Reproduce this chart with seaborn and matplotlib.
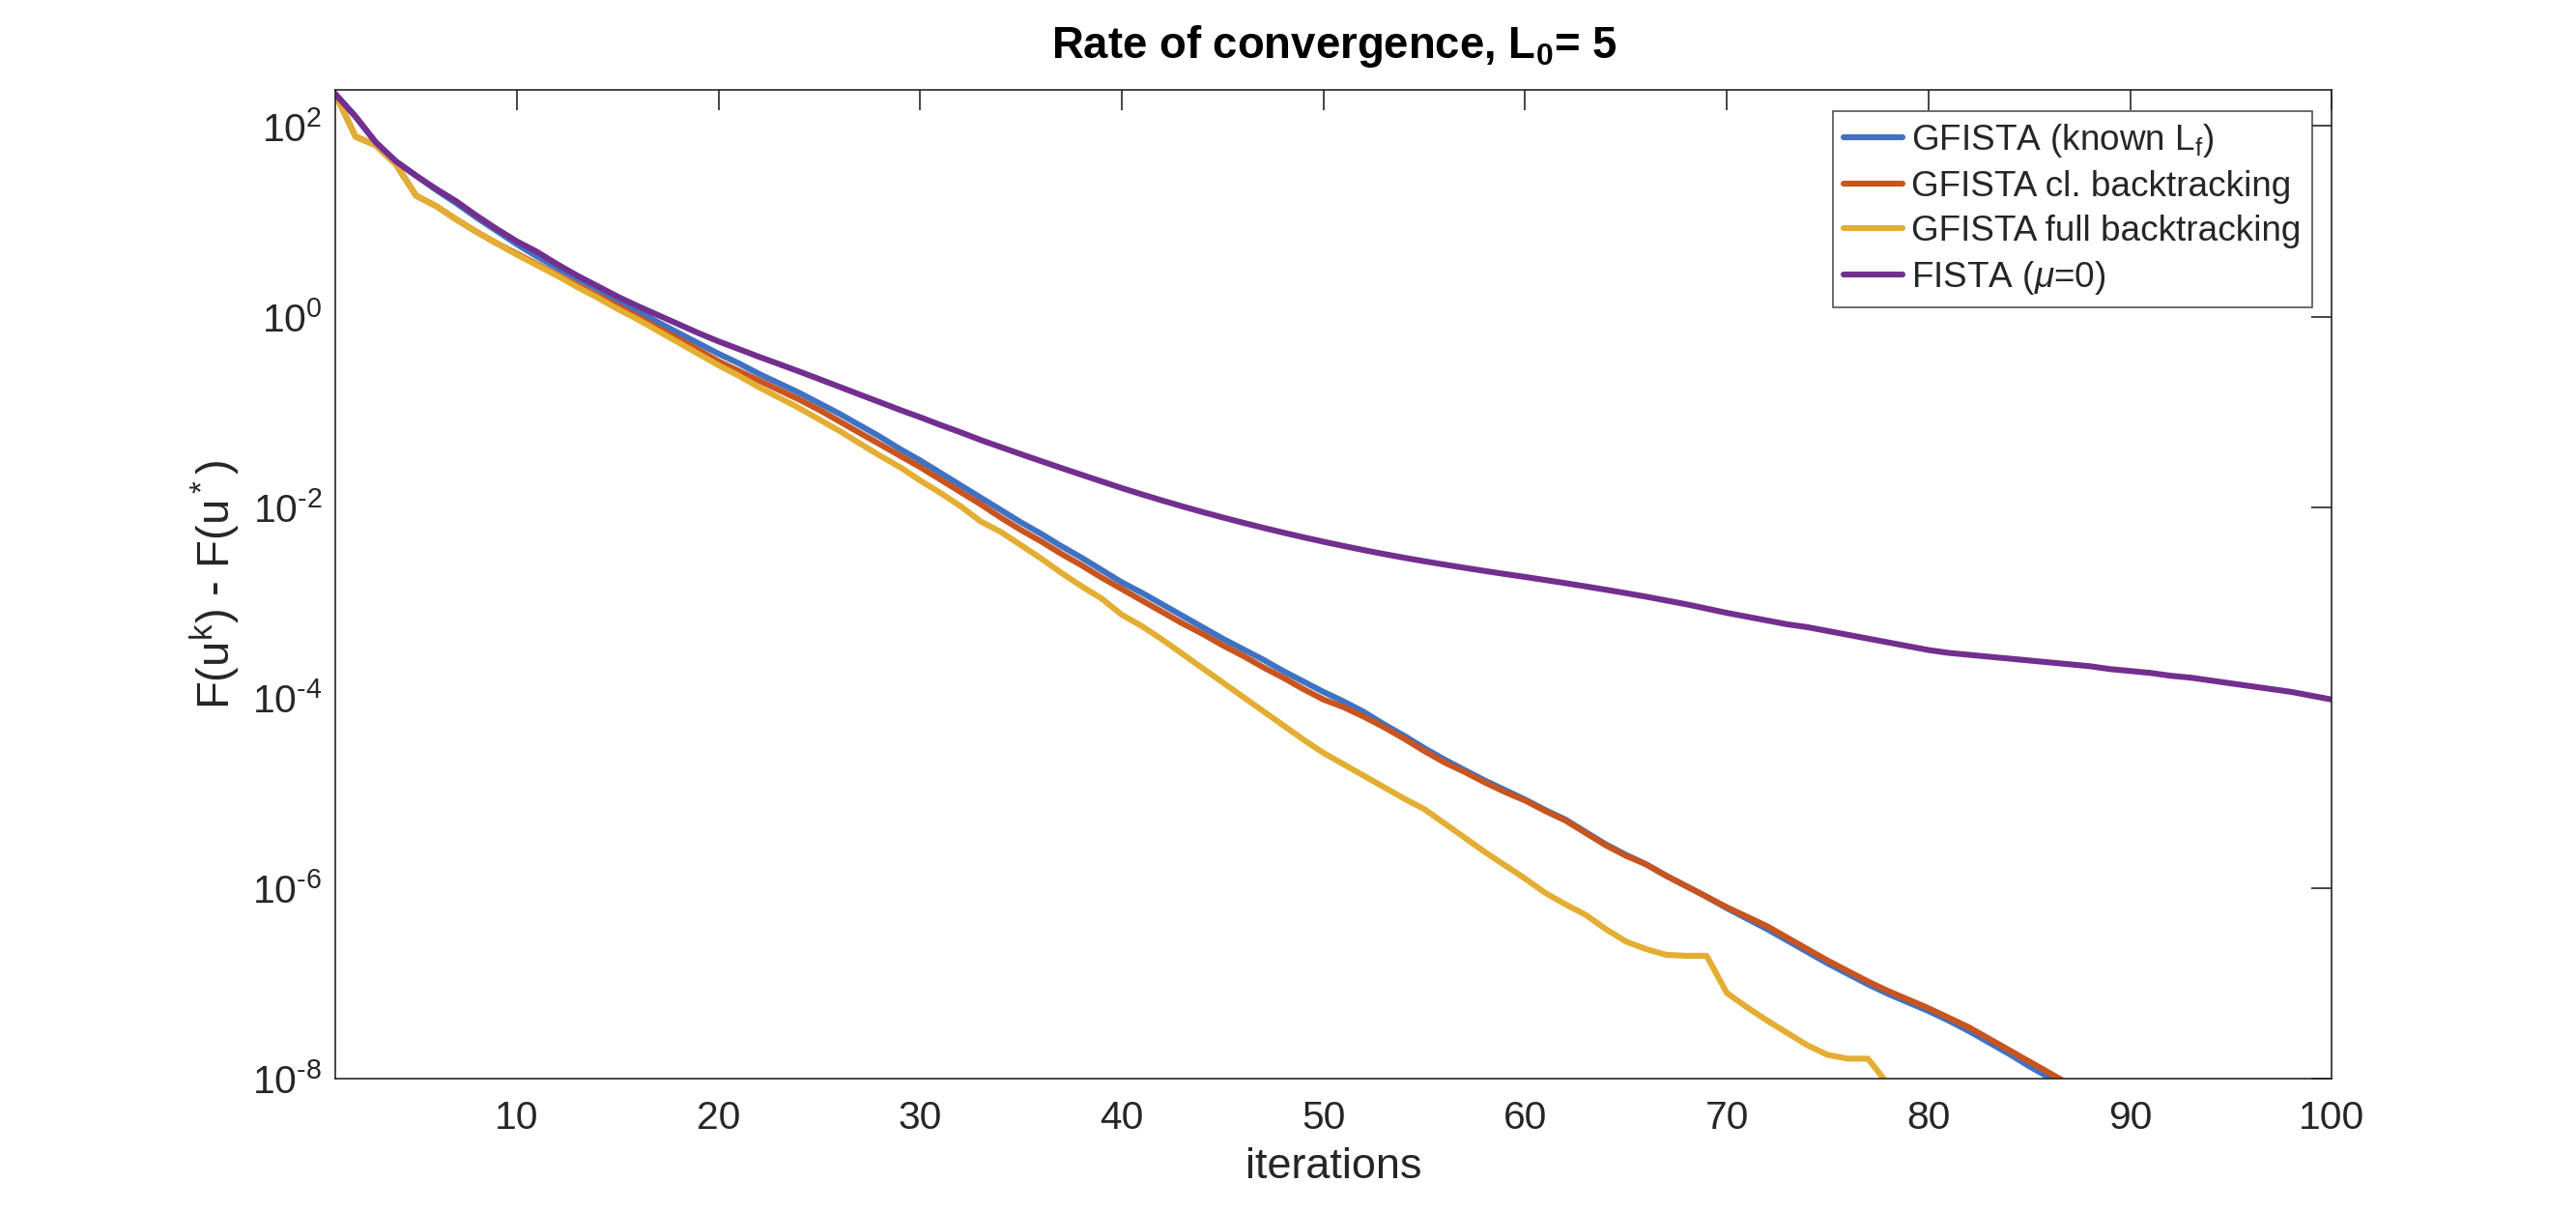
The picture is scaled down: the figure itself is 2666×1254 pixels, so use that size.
import matplotlib
matplotlib.use("Agg")
import matplotlib.pyplot as plt
import numpy as np
import pandas as pd
import seaborn as sns

# log10 of F(u^k) - F(u*), one value per iteration (k = 1, 2, ...)
gfista_known_log10 = [
    2.336, 2.10, 1.83, 1.63, 1.48, 1.33, 1.19, 1.04, 0.90, 0.76,
    0.63, 0.51, 0.40, 0.29, 0.17, 0.06, -0.06, -0.17, -0.28, -0.39,
    -0.49, -0.60, -0.70, -0.80, -0.91, -1.02, -1.14, -1.26, -1.39, -1.51,
    -1.64, -1.77, -1.90, -2.03, -2.16, -2.28, -2.41, -2.53, -2.66, -2.79,
    -2.90, -3.02, -3.14, -3.26, -3.38, -3.49, -3.60, -3.72, -3.83, -3.94,
    -4.04, -4.15, -4.28, -4.40, -4.53, -4.65, -4.76, -4.87, -4.97, -5.07,
    -5.18, -5.28, -5.41, -5.54, -5.65, -5.75, -5.87, -5.98, -6.09, -6.21,
    -6.32, -6.43, -6.55, -6.67, -6.79, -6.90, -7.01, -7.11, -7.20, -7.29,
    -7.39, -7.50, -7.62, -7.74, -7.87, -7.99, -8.12,
]
gfista_classic_log10 = [
    2.336, 1.89, 1.80, 1.60, 1.27, 1.16, 1.02, 0.89, 0.77, 0.66,
    0.55, 0.44, 0.33, 0.22, 0.11, 0.00, -0.12, -0.23, -0.35, -0.47,
    -0.57, -0.67, -0.77, -0.87, -0.98, -1.10, -1.22, -1.34, -1.46, -1.58,
    -1.71, -1.84, -1.97, -2.11, -2.24, -2.36, -2.49, -2.61, -2.74, -2.86,
    -2.98, -3.10, -3.22, -3.33, -3.45, -3.56, -3.68, -3.79, -3.91, -4.02,
    -4.10, -4.20, -4.31, -4.43, -4.56, -4.68, -4.78, -4.89, -4.99, -5.08,
    -5.19, -5.29, -5.42, -5.55, -5.66, -5.75, -5.87, -5.98, -6.09, -6.20,
    -6.30, -6.40, -6.52, -6.64, -6.76, -6.87, -6.98, -7.08, -7.17, -7.26,
    -7.36, -7.46, -7.58, -7.70, -7.82, -7.94, -8.06,
]
gfista_full_log10 = [
    2.336, 1.89, 1.80, 1.60, 1.27, 1.16, 1.02, 0.89, 0.77, 0.65,
    0.54, 0.43, 0.31, 0.20, 0.08, -0.03, -0.15, -0.27, -0.39, -0.51,
    -0.62, -0.74, -0.85, -0.96, -1.08, -1.20, -1.33, -1.46, -1.58, -1.72,
    -1.85, -1.99, -2.15, -2.26, -2.40, -2.54, -2.69, -2.83, -2.96, -3.13,
    -3.25, -3.39, -3.54, -3.69, -3.84, -3.99, -4.14, -4.29, -4.44, -4.58,
    -4.70, -4.82, -4.94, -5.06, -5.17, -5.32, -5.47, -5.62, -5.76, -5.90,
    -6.05, -6.17, -6.28, -6.43, -6.56, -6.64, -6.70, -6.71, -6.71, -7.10,
    -7.25, -7.39, -7.52, -7.65, -7.75, -7.79, -7.79, -8.06,
]
fista_log10 = [
    2.336, 2.10, 1.83, 1.63, 1.48, 1.34, 1.21, 1.06, 0.92, 0.79,
    0.68, 0.55, 0.43, 0.32, 0.21, 0.11, 0.016, -0.078, -0.172, -0.260,
    -0.340, -0.421, -0.498, -0.576, -0.656, -0.737, -0.818, -0.898, -0.979, -1.056,
    -1.137, -1.214, -1.295, -1.370, -1.444, -1.517, -1.589, -1.660, -1.730, -1.800,
    -1.866, -1.930, -1.992, -2.051, -2.108, -2.163, -2.216, -2.267, -2.316, -2.363,
    -2.408, -2.451, -2.492, -2.531, -2.568, -2.603, -2.637, -2.670, -2.702, -2.733,
    -2.765, -2.798, -2.832, -2.867, -2.903, -2.940, -2.980, -3.020, -3.065, -3.110,
    -3.15, -3.19, -3.23, -3.26, -3.30, -3.34, -3.38, -3.42, -3.46, -3.50,
    -3.53, -3.55, -3.57, -3.59, -3.61, -3.63, -3.65, -3.67, -3.70, -3.72,
    -3.74, -3.77, -3.79, -3.82, -3.85, -3.88, -3.91, -3.94, -3.98, -4.02,
]

labels = [
    r"GFISTA (known L$_\mathrm{f}$)",
    "GFISTA cl. backtracking",
    "GFISTA full backtracking",
    r"FISTA ($\mu$=0)",
]
colors = ["#3f72c3", "#c8541f", "#e3ae33", "#732f8f"]
series = [gfista_known_log10, gfista_classic_log10, gfista_full_log10, fista_log10]

y_exponents = [-8, -6, -4, -2, 0, 2]
x_ticks = list(range(10, 101, 10))

rows = []
for lab, vals in zip(labels, series):
    for k, v in enumerate(vals):
        rows.append({"iteration": k + 1, "gap": 10.0 ** v, "method": lab})
df = pd.DataFrame(rows)

sns.set_style("white")
plt.rcParams["font.family"] = ["Liberation Sans", "DejaVu Sans"]
plt.rcParams["mathtext.fontset"] = "custom"
plt.rcParams["mathtext.rm"] = "Liberation Sans"
plt.rcParams["mathtext.it"] = "Liberation Sans:italic"
plt.rcParams["mathtext.bf"] = "Liberation Sans:bold"

fig = plt.figure(figsize=(2666 / 200, 1254 / 200), dpi=200)
ax = fig.add_axes([0.1302, 0.110, 0.775, 0.8158])

sns.lineplot(data=df, x="iteration", y="gap", hue="method", hue_order=labels,
             palette=colors, linewidth=2.2, ax=ax, legend=False)

ax.set_yscale("log")
ax.set_xlim(1, 100)
ax.set_ylim(1e-8, 10 ** 2.38)
ax.set_xticks(x_ticks)
ax.set_yticks([10.0 ** e for e in y_exponents])
# MATLAB style exponents use a plain hyphen
ax.set_yticklabels([r"$\mathdefault{10^{%s}}$" % str(e).replace("-", "\u2010")
                    for e in y_exponents])
ax.yaxis.set_minor_locator(matplotlib.ticker.NullLocator())

dark = "#262626"
for s in ax.spines.values():
    s.set_color(dark)
    s.set_linewidth(0.6)
ax.tick_params(direction="in", length=7.5, width=0.6, top=True, right=True,
               colors=dark, labelsize=14.7)
ax.tick_params(axis="x", pad=8)
ax.tick_params(axis="y", pad=5)

ax.set_xlabel("iterations", fontsize=16.2, color=dark, labelpad=4)
ax.set_ylabel(r"F(u$^\mathrm{k}$) - F(u$^*$)", fontsize=17, color=dark, labelpad=4)
ax.set_title(r"Rate of convergence, L$_\mathbf{0}$= 5", fontsize=16.4,
             fontweight="bold", color="black", pad=12)

handles = [matplotlib.lines.Line2D([], [], color=c, linewidth=2.2) for c in colors]
leg = ax.legend(handles, labels, loc="upper right", bbox_to_anchor=(0.990, 0.979),
                borderaxespad=0, fontsize=13.3, frameon=True, fancybox=False,
                handlelength=1.65, handletextpad=0.25, labelspacing=0.3,
                borderpad=0.3)
leg.get_frame().set_edgecolor(dark)
leg.get_frame().set_linewidth(0.6)

fig.savefig("out.png", dpi=200, facecolor="white")
